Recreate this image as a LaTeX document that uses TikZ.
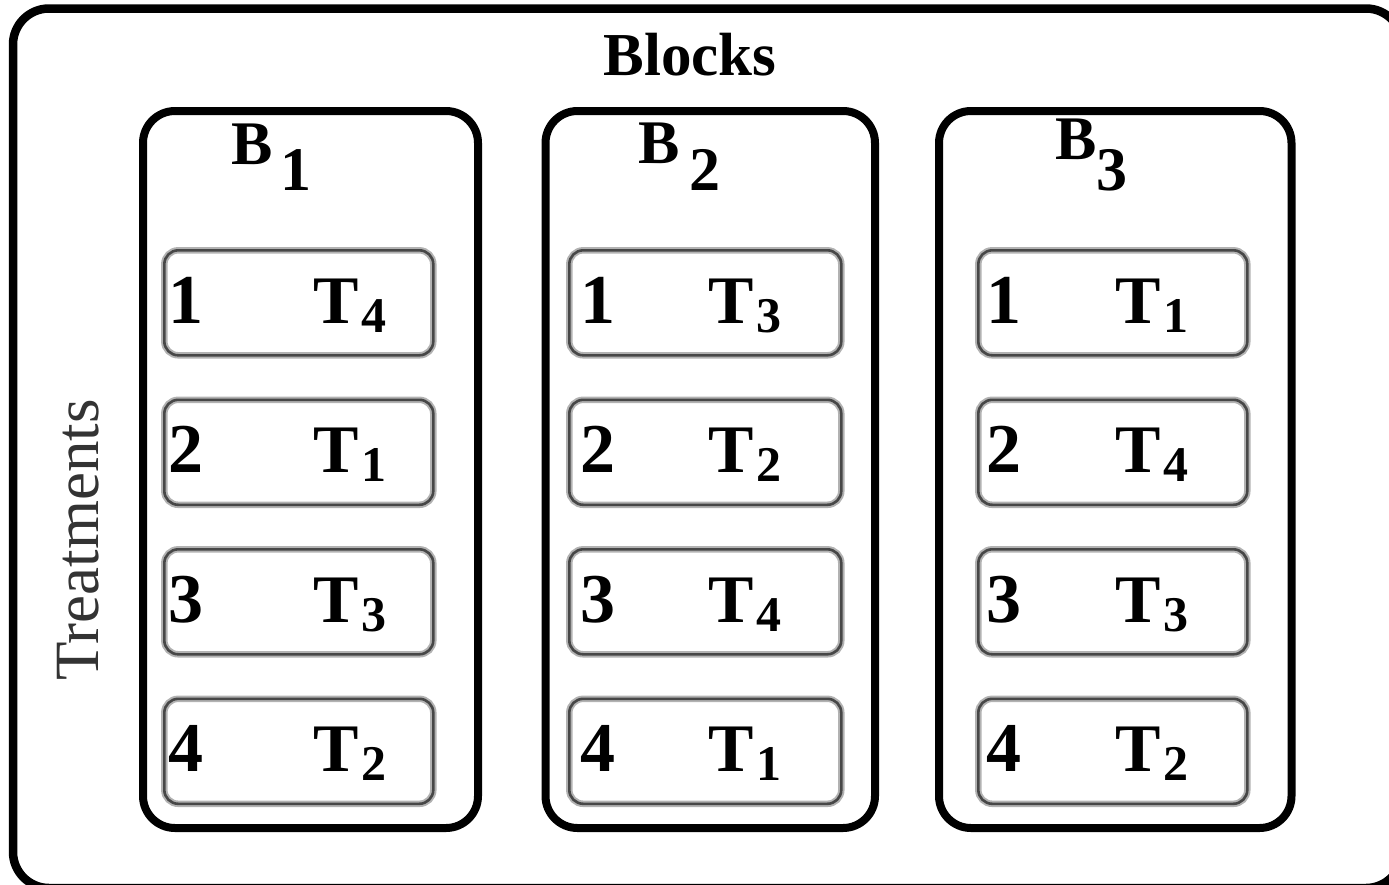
\documentclass[tikz,border=0pt]{standalone}
\usepackage{fontspec}
\setmainfont{Liberation Serif}
\begin{document}
\begin{tikzpicture}[x=1pt,y=-1pt,
  outerbox/.style={draw=black, line width=8.5pt, rounded corners=36pt},
  blockbox/.style={draw=black, line width=8pt, rounded corners=32pt, inner sep=0pt, anchor=north west},
  innerbox/.style={draw=black!72, line width=2.6pt, rounded corners=14pt, inner sep=0pt, anchor=north west,
     minimum height=105pt, preaction={draw=black!30, line width=6.5pt}},
  numlabel/.style={anchor=base west, inner sep=0pt, font=\fontsize{70}{70}\selectfont\bfseries},
  treatlabel/.style={anchor=base west, inner sep=0pt, font=\fontsize{68}{68}\selectfont\bfseries},
  blocklabel/.style={anchor=base west, inner sep=0pt, font=\fontsize{62}{62}\selectfont\bfseries},
  titlelabel/.style={anchor=base, inner sep=0pt, font=\fontsize{61}{61}\selectfont\bfseries},
  sidelabel/.style={anchor=base, inner sep=0pt, rotate=90, text=black!80, font=\fontsize{63}{63}\selectfont}]
\useasboundingbox (0,0) rectangle (1389,884);
% outer frame (partly outside the page on the right and bottom)
\begin{scope}
\clip (0,0) rectangle (1389,884);
\draw[outerbox] (13,8.5) rectangle (1402,888);
\end{scope}
\node[titlelabel] (title) at (690,75) {Blocks};
\node[sidelabel] (side) at (98,540) {Treatments};
% blocks
\node[blockbox, minimum width=335pt, minimum height=717pt] (blk1) at (139,107) {};
\node[blockbox, minimum width=329.5pt, minimum height=717pt] (blk2) at (541.5,107) {};
\node[blockbox, minimum width=352.5pt, minimum height=717pt] (blk3) at (935,107) {};
\node[blocklabel] (bl1) at (231,164) {B\hspace{8pt}\raisebox{-26pt}{1}};
\node[blocklabel] (bl2) at (638,163) {B\hspace{10pt}\raisebox{-27pt}{2}};
\node[blocklabel] (bl3) at (1055,159) {B\raisebox{-31pt}{3}};
% treatment plots
\foreach \b/\bx/\bw/\dx/\tx/\la/\lb/\lc/\ld in {
   1/163/269/168/313/4/1/3/2,
   2/568/272/580/708/3/2/4/1,
   3/977/269/986/1115/1/4/3/2}{
  \foreach \r/\lab in {1/\la,2/\lb,3/\lc,4/\ld}{
    \pgfmathsetmacro{\ry}{249+149.5*(\r-1)}
    \node[innerbox, minimum width=\bw pt] (p\b\r) at (\bx,\ry) {};
    \node[numlabel] (n\b\r) at (\dx,\ry+74) {\r};
    \node[treatlabel] (t\b\r) at (\tx,\ry+74) {T\hspace{3pt}\raisebox{-9pt}{\fontsize{50}{50}\selectfont\lab}};
  }
}
\end{tikzpicture}
\end{document}
